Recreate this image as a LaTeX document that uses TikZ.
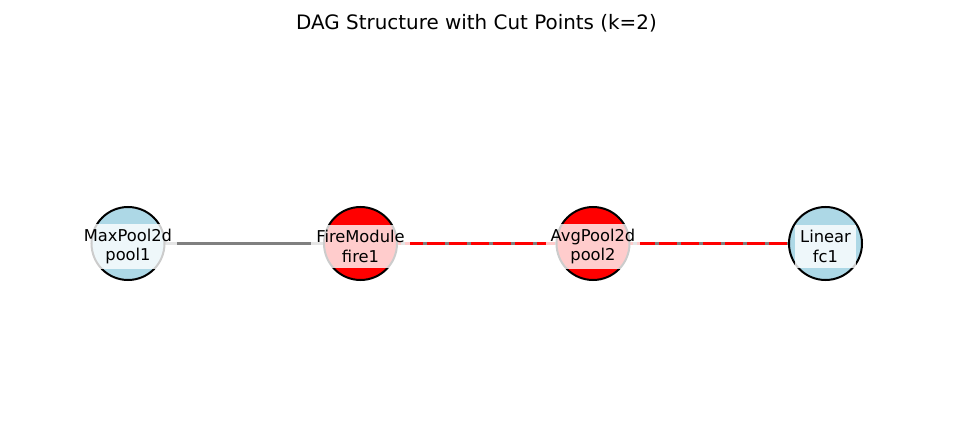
\documentclass[tikz,border=0pt]{standalone}
\usepackage{fontspec}
\setmainfont{DejaVu Sans}
\usetikzlibrary{backgrounds,calc}
\definecolor{NodeBlue}{HTML}{ADD8E6}
\definecolor{CutRed}{HTML}{FF0000}
\definecolor{EdgeGray}{HTML}{808080}
\tikzset{
    layer/.style = {draw=black, circle, line width=2pt,
        minimum size=73pt, inner sep=0pt},
    lbl/.style = {rectangle, fill=white, fill opacity=0.8, text opacity=1,
        inner xsep=5pt, inner ysep=5pt, align=center,
        font=\fontsize{16.3}{19.6}\selectfont},
    plain/.style = {draw=EdgeGray, line width=2.5pt},
    cut/.style = {draw=CutRed, line width=3.5pt, dash pattern=on 18pt off 4pt}
}

\begin{document}
\begin{tikzpicture}[x=1pt,y=-1pt]
  \useasboundingbox (0,0) rectangle (953,441);
  \node[anchor=base,font=\fontsize{19.9}{24}\selectfont] (title) at (476.5,30)
    {DAG Structure with Cut Points (k=2)};
  % layers, cut points in red
  \foreach \n/\c [count=\i from 0] in {pool1/NodeBlue,fire1/CutRed,pool2/CutRed,fc1/NodeBlue}{
    \node[layer,fill=\c] (\n) at (128+232.5*\i,243.5) {};
  };
  \begin{scope}[on background layer]
    \draw[plain] (pool1.center) -- (fire1.center);
    \draw[plain] (fire1.center) -- (pool2.center);
    \draw[plain] (pool2.center) -- (fc1.center);
    \draw[cut] (fire1.center) -- (pool2.center);
    \draw[cut] (pool2.center) -- (fc1.center);
  \end{scope}
  \foreach \n/\t in {pool1/MaxPool2d,fire1/FireModule,pool2/AvgPool2d,fc1/Linear}{
    \node[lbl] (\n-lbl) at ($(\n.center)+(0,3)$) {\t\\\n};
  };
\end{tikzpicture}
\end{document}
